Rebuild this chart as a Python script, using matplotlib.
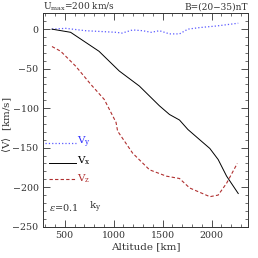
import numpy as np
import matplotlib.pyplot as plt
from matplotlib.ticker import MultipleLocator

plt.rcParams['font.family'] = ['DejaVu Serif']
plt.rcParams['mathtext.fontset'] = 'dejavuserif'

alt_x = [370, 560, 850, 1057, 1262, 1467, 1570, 1672, 1758, 1879, 1982, 2067, 2153, 2272]
vx = [0, -4, -28, -53, -72, -97, -108, -115, -127, -140, -151, -165, -186, -208]

alt_z = [370, 459, 613, 767, 904, 1024, 1040, 1194, 1366, 1537, 1672, 1776, 1982, 2067, 2153, 2262]
vz = [-22, -28, -47, -70, -89, -118, -129, -157, -178, -186, -189, -201, -212, -210, -195, -170]

alt_y = [370, 510, 715, 1024, 1085, 1194, 1297, 1383, 1467, 1570, 1672, 1758, 1879, 2050, 2272]
vy = [0, 1, -2, -4, -5, -1, -2, -4, -2, -6, -6, 0, 2, 4, 7.5]

fig = plt.figure(figsize=(2.58, 2.58), dpi=100)
ax = fig.add_axes([0.1655, 0.1213, 0.797, 0.827])

ax.plot(alt_y, vy, color='#5a5aff', ls=':', lw=0.9)
ax.plot(alt_x, vx, color='black', ls='-', lw=0.7)
ax.plot(alt_z, vz, color='#b03030', ls='--', lw=0.8, dashes=(3, 2))

ax.set_xlim(275, 2375)
ax.set_ylim(-250, 20)
ax.xaxis.set_major_locator(MultipleLocator(500))
ax.xaxis.set_minor_locator(MultipleLocator(100))
ax.yaxis.set_major_locator(MultipleLocator(50))
ax.yaxis.set_minor_locator(MultipleLocator(10))
ax.tick_params(which='both', direction='in', top=True, right=True, labelsize=6.8, colors='#333333')
ax.tick_params(which='major', length=5, width=0.6, pad=3)
ax.tick_params(which='minor', length=2.5, width=0.5)
for s in ax.spines.values():
    s.set_linewidth(0.7)
    s.set_color('#333333')

ax.set_xlabel('Altitude [km]', fontsize=7.5, labelpad=2, color='#333333')
ax.set_ylabel(r'$\langle$V$\rangle$  [km/s]', fontsize=7.5, color='#333333')
ax.yaxis.set_label_coords(-0.14, 0.48)

# legend drawn by hand
ax.plot([300, 615], [-144, -144], color='#5a5aff', ls=':', lw=0.9)
ax.plot([340, 615], [-169, -169], color='black', lw=0.7)
ax.plot([340, 615], [-190, -190], color='#b03030', ls='--', lw=0.8, dashes=(3, 2))
ax.text(630, -143, r'V$_\mathregular{y}$', color='#3030ff', fontsize=7.5, va='center')
ax.text(630, -167, r'V$_\mathregular{x}$', color='black', fontsize=7.5, va='center')
ax.text(630, -189, r'V$_\mathregular{z}$', color='#b03030', fontsize=7.5, va='center')
ax.text(340, -226, r'$\varepsilon$=0.1', fontsize=7, color='#333333', va='center')
ax.text(750, -226, r'k$_\mathregular{y}$', fontsize=7.5, color='#333333', va='center')

fig.text(0.1655, 0.972, r'U$_\mathregular{max}$=200 km/s', fontsize=6.5, color='#333333', va='center')
fig.text(0.962, 0.972, 'B=(20\u221235)nT', fontsize=6.5, color='#333333', va='center', ha='right')

fig.savefig('out.png', dpi=100)
